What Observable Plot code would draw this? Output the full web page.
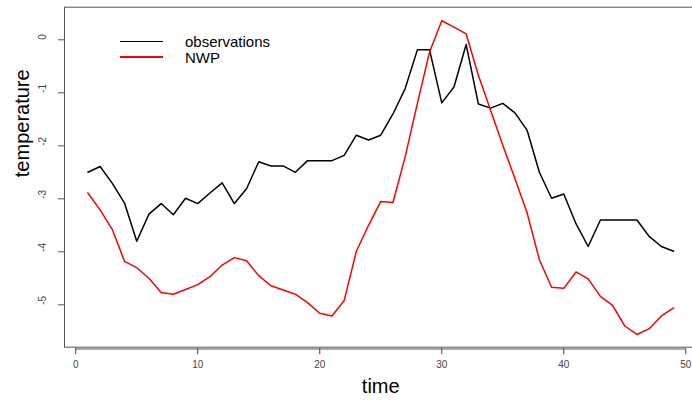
<!DOCTYPE html>
<html>
<head>
<meta charset="utf-8">
<script src="https://cdn.jsdelivr.net/npm/d3@7"></script>
<script src="https://cdn.jsdelivr.net/npm/@observablehq/plot@0.6"></script>
<style>
  html, body { margin: 0; padding: 0; background: #fff; }
  #wrap { position: relative; width: 692px; height: 400px; font-family: "Liberation Sans", Arial, sans-serif; overflow: hidden; }
  #legend { position: absolute; left: 120px; top: 34px; font-size: 15px; color: #000; }
  .item { display: flex; align-items: center; height: 15.4px; }
  .swatch { display: inline-block; width: 43px; height: 1.6px; margin-right: 22px; }
</style>
</head>
<body>
<div id="wrap">
  <div id="chart"></div>
  <div id="legend"></div>
</div>
<script>
const time = [1,2,3,4,5,6,7,8,9,10,11,12,13,14,15,16,17,18,19,20,21,22,23,24,25,26,27,28,29,30,31,32,33,34,35,36,37,38,39,40,41,42,43,44,45,46,47,48,49];
const observations = [-2.50,-2.39,-2.71,-3.08,-3.80,-3.29,-3.09,-3.30,-2.99,-3.09,-2.89,-2.70,-3.09,-2.81,-2.30,-2.38,-2.38,-2.50,-2.28,-2.28,-2.28,-2.18,-1.80,-1.89,-1.80,-1.40,-0.92,-0.19,-0.19,-1.19,-0.89,-0.09,-1.21,-1.29,-1.20,-1.38,-1.71,-2.50,-2.99,-2.91,-3.47,-3.90,-3.40,-3.40,-3.40,-3.40,-3.71,-3.90,-3.99];
const nwp = [-2.89,-3.21,-3.58,-4.18,-4.30,-4.50,-4.77,-4.80,-4.71,-4.62,-4.47,-4.25,-4.11,-4.17,-4.45,-4.64,-4.72,-4.80,-4.96,-5.16,-5.21,-4.92,-3.99,-3.50,-3.05,-3.07,-2.21,-1.20,-0.23,0.36,0.24,0.11,-0.67,-1.33,-1.99,-2.62,-3.27,-4.15,-4.67,-4.69,-4.38,-4.51,-4.84,-5.01,-5.40,-5.56,-5.45,-5.21,-5.06];
const seriesNames = ["observations", "NWP"];
const seriesColors = ["#000000", "#ff0000"];
const xTicks = [0, 10, 20, 30, 40, 50];
const yTicks = [0, -1, -2, -3, -4, -5];
const xDomain = [-0.92, 50.55];
const yDomain = [-5.8, 0.615];

const rows = [];
[observations, nwp].forEach((vals, s) => {
  time.forEach((t, i) => rows.push({series: seriesNames[s], time: t, value: vals[i]}));
});

const font = '"Liberation Sans", Arial, sans-serif';
const chart = Plot.plot({
  width: 692,
  height: 400,
  marginLeft: 64,
  marginRight: 0,
  marginTop: 6.7,
  marginBottom: 53.3,
  style: {fontFamily: font, background: "#fff"},
  x: {domain: xDomain, axis: null},
  y: {domain: yDomain, axis: null},
  color: {domain: seriesNames, range: seriesColors},
  marks: [
    Plot.frame({stroke: "#555", strokeWidth: 1}),
    Plot.ruleY([yDomain[0]], {x1: xTicks[0], x2: xTicks[xTicks.length - 1], dy: 1.8, stroke: "#555"}),
    Plot.axisX({ticks: xTicks, tickSize: 6, tickPadding: 6, dy: 1.5, fontSize: 10, color: "#444", tickFormat: d => String(d), label: null}),
    Plot.axisY({ticks: yTicks, tickSize: 6, tickFormat: () => "", color: "#555", label: null}),
    Plot.text(yTicks, {y: d => d, text: d => String(d), frameAnchor: "left", dx: -22, rotate: -90, fontSize: 10, fill: "#444"}),
    Plot.text(["time"], {x: (xDomain[0] + 50.92) / 2, text: d => d, frameAnchor: "bottom", dy: 46, fontSize: 20, fill: "#000"}),
    Plot.text(["temperature"], {y: (yDomain[0] + yDomain[1]) / 2, text: d => d, frameAnchor: "left", dx: -42, rotate: -90, fontSize: 20, fill: "#000"}),
    Plot.line(rows, {x: "time", y: "value", z: "series", stroke: "series", strokeWidth: 1.5})
  ]
});
document.getElementById("chart").appendChild(chart);

const legend = document.getElementById("legend");
seriesNames.forEach((name, i) => {
  const item = document.createElement("div");
  item.className = "item";
  const sw = document.createElement("span");
  sw.className = "swatch";
  sw.style.background = seriesColors[i];
  const label = document.createElement("span");
  label.textContent = name;
  item.appendChild(sw);
  item.appendChild(label);
  legend.appendChild(item);
});
</script>
</body>
</html>
